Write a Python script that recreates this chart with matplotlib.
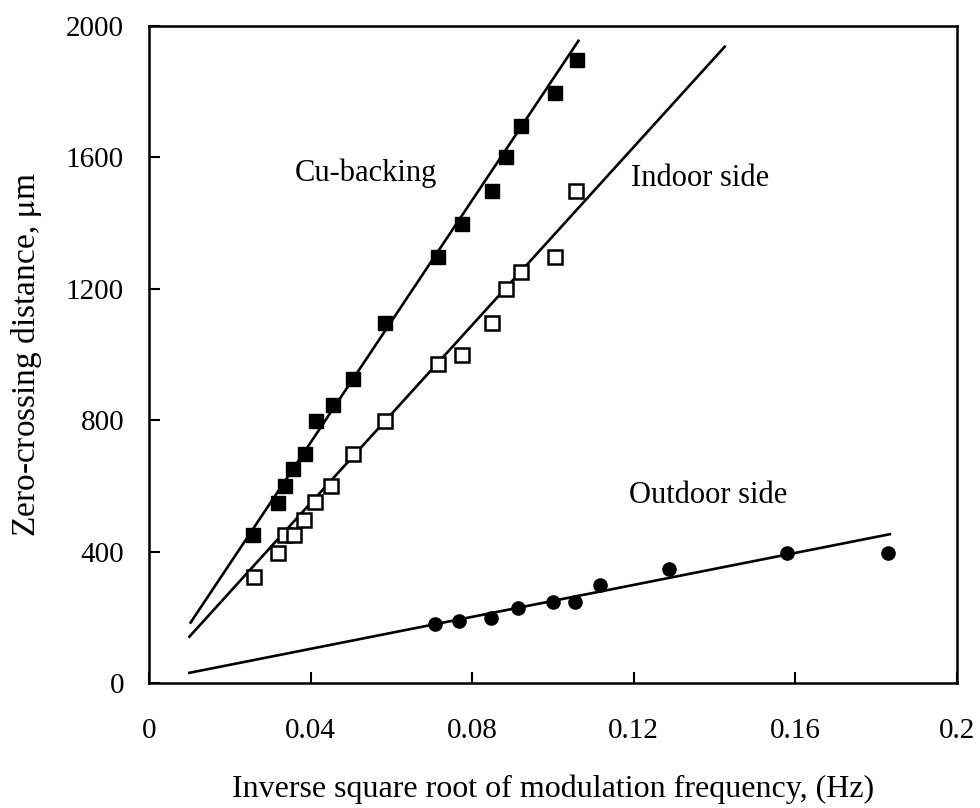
import matplotlib
matplotlib.use('Agg')
import matplotlib.pyplot as plt

plt.rcParams['font.family'] = ['Liberation Serif', 'DejaVu Serif']
plt.rcParams['mathtext.fontset'] = 'stix'

cu_x = [0.0258, 0.0320, 0.0337, 0.0357, 0.0386, 0.0413, 0.0455, 0.0505,
        0.0584, 0.0716, 0.0774, 0.0850, 0.0883, 0.0920, 0.1005, 0.1060]
cu_y = [451, 547, 600, 651, 697, 797, 847, 924,
        1095, 1297, 1397, 1497, 1600, 1697, 1797, 1897]

indoor_x = [0.0260, 0.0320, 0.0337, 0.0359, 0.0383, 0.0412, 0.0451, 0.0505,
            0.0584, 0.0716, 0.0774, 0.0850, 0.0883, 0.0920, 0.1005, 0.1058]
indoor_y = [324, 397, 451, 451, 497, 551, 601, 697,
            797, 971, 997, 1097, 1200, 1251, 1297, 1497]

outdoor_x = [0.0709, 0.0768, 0.0846, 0.0913, 0.0999, 0.1054, 0.1117,
             0.1288, 0.1580, 0.1830]
outdoor_y = [180, 188, 197, 227, 247, 247, 297, 347, 397, 397]

# fitted lines (end points)
cu_fit_x = [0.0103, 0.1063]
cu_fit_y = [184, 1955]
indoor_fit_x = [0.0100, 0.1425]
indoor_fit_y = [141, 1937]
outdoor_fit_x = [0.0100, 0.1834]
outdoor_fit_y = [31, 453]

x_ticks = [0, 0.04, 0.08, 0.12, 0.16, 0.2]
x_tick_labels = ['0', '0.04', '0.08', '0.12', '0.16', '0.2']
y_ticks = [0, 400, 800, 1200, 1600, 2000]

W, H = 980, 808
fig = plt.figure(figsize=(W / 100, H / 100), dpi=100)
# frame in pixels: left 149, right 957, top 26, bottom 683
ax = fig.add_axes([149 / W, 1 - 683 / H, (957 - 149) / W, (683 - 26) / H])

lw = 1.9
ax.plot(cu_fit_x, cu_fit_y, color='black', lw=lw)
ax.plot(indoor_fit_x, indoor_fit_y, color='black', lw=lw)
ax.plot(outdoor_fit_x, outdoor_fit_y, color='black', lw=lw)

ax.plot(cu_x, cu_y, 's', color='black', ms=10, zorder=3)
ax.plot(indoor_x, indoor_y, 's', mfc='white', mec='black', mew=1.8, ms=10, zorder=3)
ax.plot(outdoor_x, outdoor_y, 'o', color='black', ms=9.5, zorder=3)

ax.text(0.0537, 1551, 'Cu-backing', fontsize=22, ha='center', va='center')
ax.text(0.1363, 1537, 'Indoor side', fontsize=22, ha='center', va='center')
ax.text(0.1385, 570, 'Outdoor side', fontsize=22, ha='center', va='center')

ax.set_xlim(0, 0.2)
ax.set_ylim(0, 2000)
ax.set_xticks(x_ticks)
ax.set_xticklabels(x_tick_labels)
ax.set_yticks(y_ticks)
ax.tick_params(direction='in', length=8, width=1.5, labelsize=21)
ax.tick_params(axis='x', pad=25)
ax.tick_params(axis='y', pad=18)
for s in ax.spines.values():
    s.set_linewidth(1.8)

ax.set_xlabel('Inverse square root of modulation frequency, (Hz)', fontsize=23, labelpad=22)
ax.set_ylabel('Zero-crossing distance, $\\mathrm{\\mu}$m', fontsize=24, labelpad=16)

fig.savefig('out.png', dpi=100)
